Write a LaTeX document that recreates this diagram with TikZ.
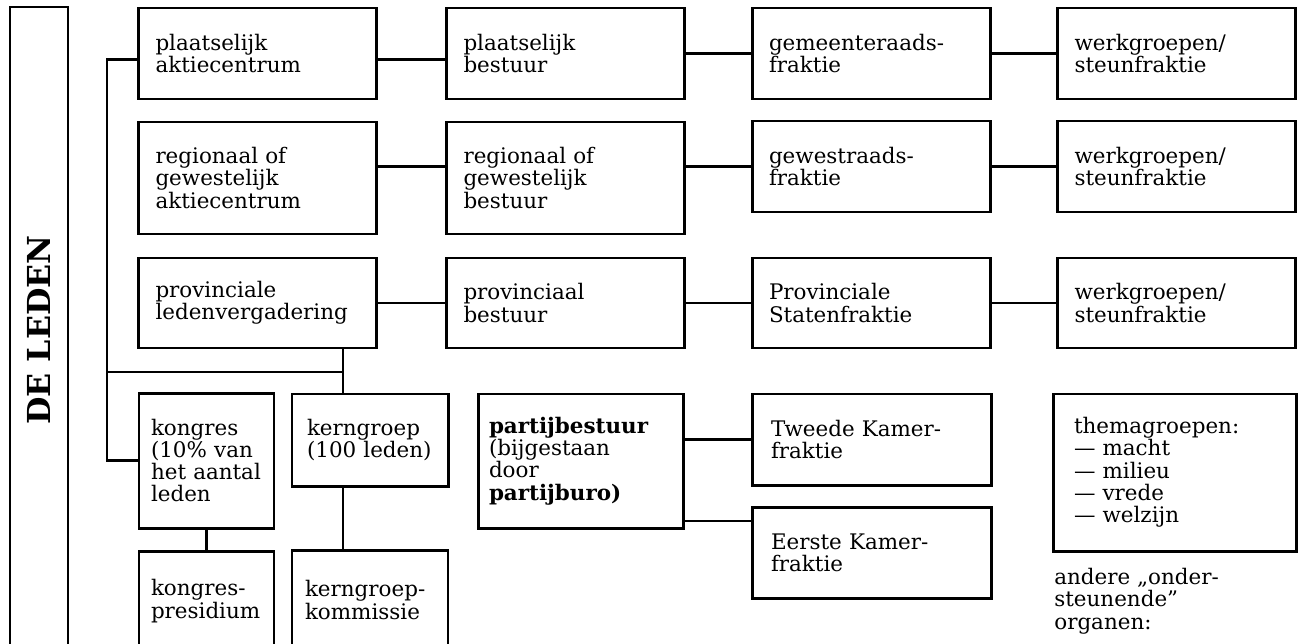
\documentclass[tikz,border=0pt]{standalone}
\usepackage{fontspec}
\setmainfont{DejaVu Serif}
\begin{document}
\begin{tikzpicture}[
    font=\fontsize{12.2}{12.7}\selectfont,
    organ/.style={draw, line width=1.7pt, align=left, inner ysep=0pt,
        inner xsep=0.34cm, text width=4.08cm, minimum height=1.82cm},
    members/.style={draw, line width=1.7pt, rotate=90, inner sep=0pt,
        font=\fontsize{18}{20}\selectfont\bfseries,
        minimum width=12.92cm, minimum height=1.16cm},
    link/.style={line width=1.7pt},
    remark/.style={align=left, inner sep=0pt, anchor=north west},
]
    \clip (0,0) rectangle (26.04,12.86);

    % De leden
    \node[members] (leden) at (0.78,6.26) {DE LEDEN};

    % Row 1: local level
    \node[organ] (A1) at (5.15,11.79) {plaatselijk\\aktiecentrum};
    \node[organ] (B1) at (11.31,11.79) {plaatselijk\\bestuur};
    \node[organ] (C1) at (17.42,11.79) {gemeenteraads-\\fraktie};
    \node[organ] (D1) at (23.53,11.79) {werkgroepen/\\steunfraktie};

    % Row 2: regional level
    \node[organ, minimum height=2.24cm] (A2) at (5.15,9.30) {regionaal of\\gewestelijk\\aktiecentrum};
    \node[organ, minimum height=2.24cm] (B2) at (11.31,9.30) {regionaal of\\gewestelijk\\bestuur};
    \node[organ] (C2) at (17.42,9.53) {gewestraads-\\fraktie};
    \node[organ] (D2) at (23.53,9.53) {werkgroepen/\\steunfraktie};

    % Row 3: provincial level
    \node[organ, minimum height=1.80cm] (A3) at (5.15,6.80) {provinciale\\ledenvergadering};
    \node[organ, minimum height=1.80cm] (B3) at (11.31,6.80) {provinciaal\\bestuur};
    \node[organ, minimum height=1.80cm] (C3) at (17.42,6.80) {Provinciale\\Statenfraktie};
    \node[organ, minimum height=1.80cm] (D3) at (23.53,6.80) {werkgroepen/\\steunfraktie};

    % Row 4: national level
    \node[organ, inner xsep=0.24cm, text width=2.22cm, minimum height=2.70cm] (kongres) at (4.13,3.65)
        {kongres\\(10\%~van\\het~aantal\\leden};
    \node[organ, inner xsep=0.30cm, text width=2.52cm, minimum height=1.84cm] (kerngroep) at (7.40,4.06)
        {kerngroep\\(100~leden)};
    \node[organ, inner xsep=0.24cm, text width=2.22cm, minimum height=2.00cm] (presidium) at (4.13,0.84)
        {kongres-\\presidium};
    \node[organ, inner xsep=0.26cm, text width=2.60cm, minimum height=2.00cm] (kommissie) at (7.40,0.86)
        {kerngroep-\\kommissie};
    \node[organ, inner xsep=0.22cm, text width=3.66cm, minimum height=2.68cm] (partij) at (11.61,3.64)
        {\textbf{partijbestuur}\\(bijgestaan\\door\\\textbf{partijburo)}};
    \node[organ, inner xsep=0.38cm, text width=4.02cm] (tweede) at (17.43,4.07) {Tweede Kamer-\\fraktie};
    \node[organ, inner xsep=0.38cm, text width=4.02cm] (eerste) at (17.43,1.81) {Eerste Kamer-\\fraktie};
    \node[organ, inner xsep=0.42cm, text width=4.02cm, minimum height=3.14cm] (thema) at (23.49,3.41)
        {themagroepen:\\— macht\\— milieu\\— vrede\\— welzijn};
    \node[remark] (andere) at (21.08,1.50) {andere „onder-\\steunende”\\organen:};

    % Connectors
    \coordinate (spine) at (2.14,0);
    \coordinate (split) at (6.86,5.42);
    \draw[link] ([yshift=-0.12cm]A1.west) -| (spine |- kongres.west) -- (kongres.west);
    \draw[link] (split -| spine) -- (split);
    \draw[link] (A3.south -| split) -- (kerngroep.north -| split);
    \draw[link] (kerngroep.south -| split) -- (kommissie.north -| split);
    \draw[link] (kongres.south) -- (presidium.north);

    \draw[link] ([yshift=-0.12cm]A1.east) -- ([yshift=-0.12cm]B1.west);
    \draw[link] (B1) -- (C1);
    \draw[link] (C1) -- (D1);
    \draw[link] (A2.east |- C2.west) -- (B2.west |- C2.west);
    \draw[link] (B2.east |- C2.west) -- (C2.west);
    \draw[link] (C2) -- (D2);
    \draw[link] (A3) -- (B3);
    \draw[link] (B3) -- (C3);
    \draw[link] (C3) -- (D3);

    \draw[link] (tweede.west -| partij.east) -- (tweede.west);
    \draw[link] ([yshift=0.17cm]partij.south east) coordinate (p) -- (p -| eerste.west);
\end{tikzpicture}
\end{document}
